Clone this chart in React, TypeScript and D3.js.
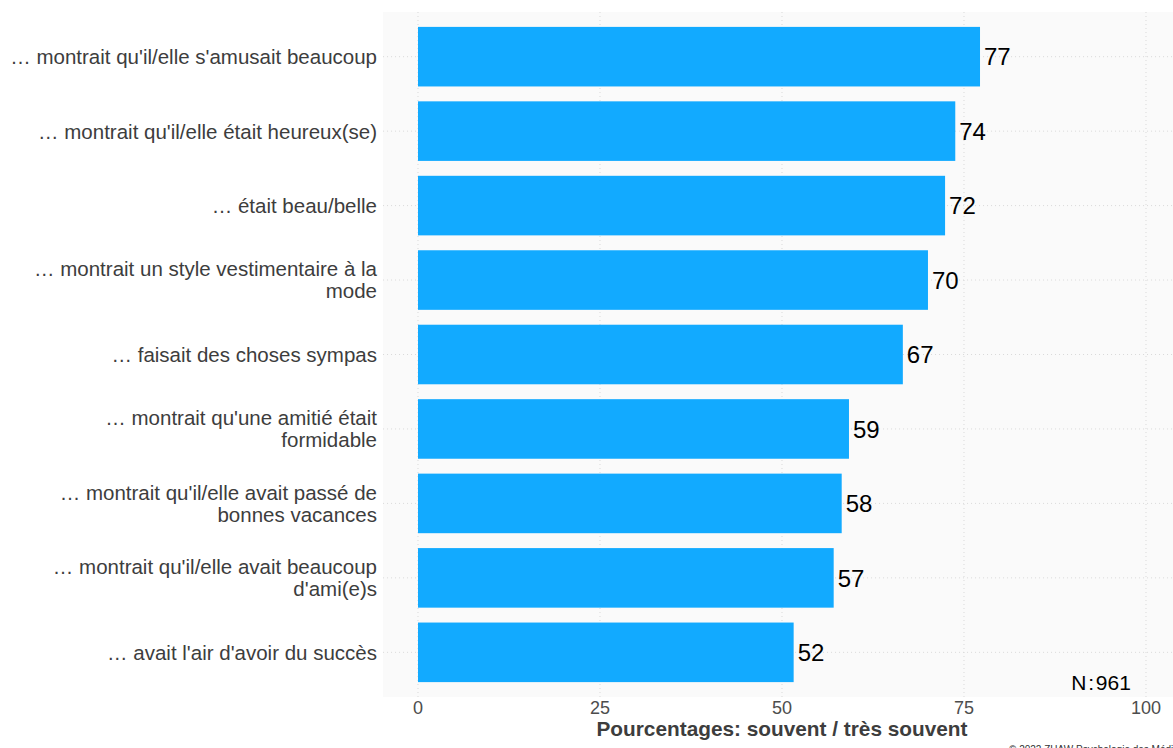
import React, { useRef, useEffect } from "react";
import * as d3 from "d3";

// categories, top to bottom (line breaks as in the original)
const categories: string[] = [
  "… montrait qu'il/elle s'amusait beaucoup",
  "… montrait qu'il/elle était heureux(se)",
  "… était beau/belle",
  "… montrait un style vestimentaire à la\nmode",
  "… faisait des choses sympas",
  "… montrait qu'une amitié était\nformidable",
  "… montrait qu'il/elle avait passé de\nbonnes vacances",
  "… montrait qu'il/elle avait beaucoup\nd'ami(e)s",
  "… avait l'air d'avoir du succès",
];

const values: number[] = [77.2, 73.8, 72.4, 70.05, 66.6, 59.2, 58.2, 57.1, 51.6];
const valueLabels: string[] = ["77", "74", "72", "70", "67", "59", "58", "57", "52"];

const xTicks: number[] = [0, 25, 50, 75, 100];

const xTitle = "Pourcentages: souvent / très souvent";
const nLabel = "N : 961";
const caption = "© 2022 ZHAW Psychologie des Médias";

const App: React.FC = () => {
  const d3Container = useRef<HTMLDivElement>(null);

  useEffect(() => {
    const W = 1173;
    const H = 748;

    d3.select(d3Container.current).selectChildren().remove();

    const svg = d3
      .select(d3Container.current)
      .append("svg")
      .attr("width", W)
      .attr("height", H)
      .style("position", "absolute")
      .style("left", "0px")
      .style("top", "0px")
      .style("font-family", "Liberation Sans, Arial, sans-serif");

    svg.append("rect").attr("width", W).attr("height", H).attr("fill", "#ffffff");

    const x = d3.scaleLinear().domain([0, 100]).range([418, 1146]);
    // panel spans the 0..100 range with 5% expansion either side
    const panel = { left: x(-4.8), right: x(104.8), top: 12, bottom: 697 };

    // y: discrete scale with 0.6 band expansion each side
    const step = (panel.bottom - panel.top) / (categories.length - 1 + 1.2);
    const y = d3
      .scalePoint<string>()
      .domain(categories)
      .range([panel.top + 0.6 * step, panel.bottom - 0.6 * step]);
    const barH = step * 0.8;

    // panel background
    svg
      .append("rect")
      .attr("x", panel.left)
      .attr("y", panel.top)
      .attr("width", panel.right - panel.left)
      .attr("height", panel.bottom - panel.top)
      .attr("fill", "#fafafa");

    // grid
    const grid = svg
      .append("g")
      .attr("stroke", "#d9d9d9")
      .attr("stroke-width", 1)
      .attr("stroke-dasharray", "1,3");
    grid
      .selectAll("line.v")
      .data(xTicks)
      .join("line")
      .attr("x1", (d) => x(d))
      .attr("x2", (d) => x(d))
      .attr("y1", panel.top)
      .attr("y2", panel.bottom);
    grid
      .selectAll("line.h")
      .data(categories)
      .join("line")
      .attr("x1", panel.left)
      .attr("x2", panel.right)
      .attr("y1", (d) => y(d)!)
      .attr("y2", (d) => y(d)!);

    // bars
    svg
      .append("g")
      .selectAll("rect")
      .data(values)
      .join("rect")
      .attr("x", x(0))
      .attr("y", (_, i) => y(categories[i])! - barH / 2)
      .attr("width", (d) => x(d) - x(0))
      .attr("height", barH)
      .attr("fill", "#12aaff");

    // value labels
    svg
      .append("g")
      .selectAll("text")
      .data(values)
      .join("text")
      .attr("x", (d) => x(d) + 4)
      .attr("y", (_, i) => y(categories[i])!)
      .attr("dy", "0.36em")
      .attr("font-size", 24)
      .attr("fill", "#000000")
      .text((_, i) => valueLabels[i]);

    // category labels
    const lineH = 22;
    svg
      .append("g")
      .selectAll("text")
      .data(categories)
      .join("text")
      .attr("text-anchor", "end")
      .attr("font-size", 20.5)
      .attr("fill", "#3d3d3d")
      .each(function (d) {
        const lines = d.split("\n");
        const cy = y(d)!;
        const t = d3.select(this);
        lines.forEach((ln, k) => {
          t.append("tspan")
            .attr("x", 377)
            .attr("y", cy + (k - (lines.length - 1) / 2) * lineH)
            .attr("dy", "0.36em")
            .text(ln);
        });
      });

    // x axis tick labels
    svg
      .append("g")
      .selectAll("text")
      .data(xTicks)
      .join("text")
      .attr("x", (d) => x(d))
      .attr("y", 714)
      .attr("text-anchor", "middle")
      .attr("font-size", 18)
      .attr("fill", "#4d4d4d")
      .text((d) => d);

    // x title
    svg
      .append("text")
      .attr("x", (panel.left + panel.right) / 2)
      .attr("y", 736)
      .attr("text-anchor", "middle")
      .attr("font-size", 20.8)
      .attr("font-weight", "bold")
      .attr("fill", "#3d3d3d")
      .text(xTitle);

    // N annotation
    svg
      .append("text")
      .attr("x", 1101)
      .attr("y", 690)
      .attr("text-anchor", "middle")
      .attr("font-size", 21)
      .attr("word-spacing", -4)
      .attr("fill", "#000000")
      .text(nLabel);

    // caption (cut by the frame, as in the original)
    svg
      .append("text")
      .attr("x", 1009)
      .attr("y", 753)
      .attr("font-size", 10)
      .attr("fill", "#333333")
      .text(caption);
  }, []);

  return (
    <div>
      <div ref={d3Container} />
    </div>
  );
};

export default App;
